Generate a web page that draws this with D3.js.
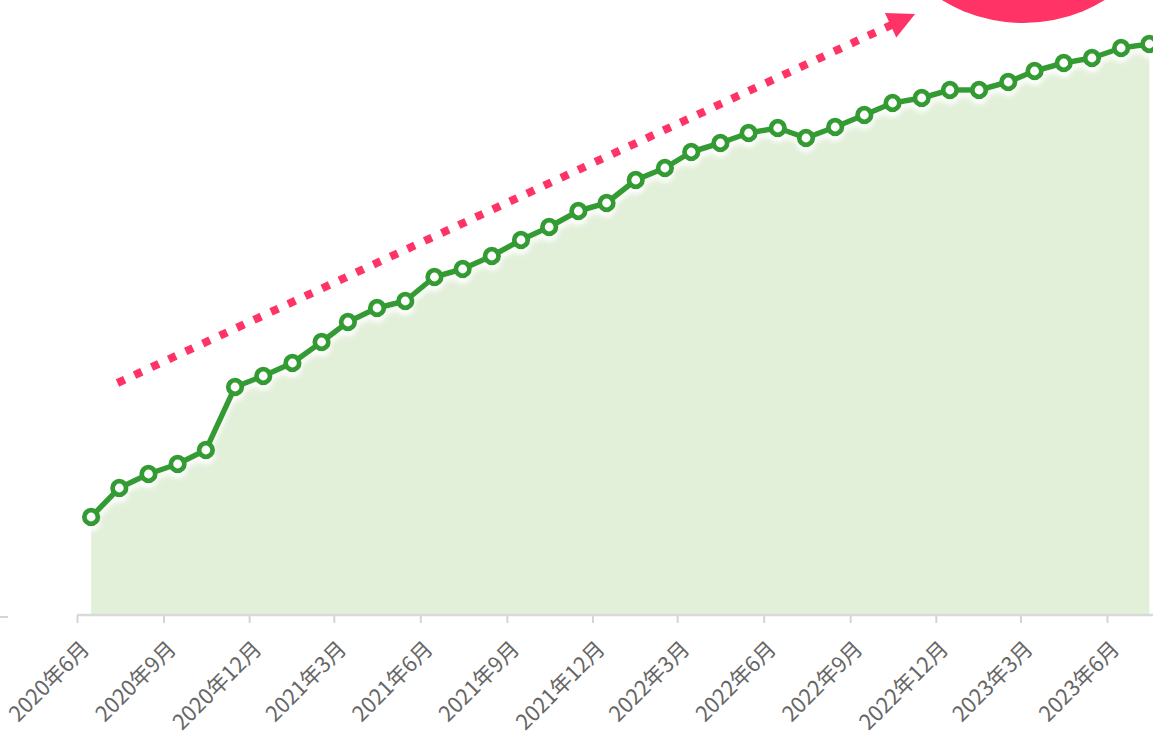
<!DOCTYPE html>
<html>
<head>
<meta charset="utf-8">
<script src="https://cdn.jsdelivr.net/npm/d3@7"></script>
<style>
  html, body { margin: 0; padding: 0; background: #fff; overflow: hidden; }
  svg { display: block; }
  .tick text { font-family: "Noto Sans CJK SC", "Noto Sans", sans-serif; }
</style>
</head>
<body>
<svg width="1153" height="737"></svg>
<script>
// monthly observations, one per month (mid-month), 2020-06 .. 2023-07
let months = [
  '2020-06', '2020-07', '2020-08', '2020-09', '2020-10', '2020-11', '2020-12',
  '2021-01', '2021-02', '2021-03', '2021-04', '2021-05', '2021-06', '2021-07',
  '2021-08', '2021-09', '2021-10', '2021-11', '2021-12', '2022-01', '2022-02',
  '2022-03', '2022-04', '2022-05', '2022-06', '2022-07', '2022-08', '2022-09',
  '2022-10', '2022-11', '2022-12', '2023-01', '2023-02', '2023-03', '2023-04',
  '2023-05', '2023-06', '2023-07'
]
let values = [
  97, 126, 140, 150, 164, 227, 238, 251, 272, 292, 306, 313, 337,
  345, 358, 374, 387, 403, 411, 434, 446, 462, 471, 481, 486, 476,
  487, 499, 511, 516, 524, 524, 532, 543, 551, 556, 566, 570
]
let tickMonths = [
  '2020-06', '2020-09', '2020-12', '2021-03', '2021-06', '2021-09', '2021-12',
  '2022-03', '2022-06', '2022-09', '2022-12', '2023-03', '2023-06'
]
// trend arrow annotation, in data space [date, value]
let arrowFrom = ['2020-07-14', 231]
let arrowTo = ['2022-11-09', 600]
// badge circle centre, in data space
let badgeAt = ['2023-03-04', 747]

let width = 1153
let height = 737
let baseY = 614
let green = '#339c33'
let red = '#ff3366'

let parseMonth = d3.timeParse('%Y-%m')
let parseDay = d3.timeParse('%Y-%m-%d')
let mid = m => d3.timeDay.offset(parseMonth(m), 15)

let data = months.map((m, i) => [mid(m), values[i]])

let x = d3.scaleTime()
  .domain([parseMonth('2020-06'), parseMonth('2023-06')])
  .range([77, 1107])

let y = d3.scaleLinear()
  .domain([0, 600])
  .range([baseY, 14])

let svg = d3.select('svg')

let defs = svg.append('defs')
let glow = defs.append('filter')
  .attr('id', 'glow')
  .attr('x', '-10%').attr('y', '-10%')
  .attr('width', '120%').attr('height', '130%')
glow.append('feDropShadow')
  .attr('dx', 0).attr('dy', 5)
  .attr('stdDeviation', 2.5)
  .attr('flood-color', '#fff')
  .attr('flood-opacity', 1)

// area under the line
let area = d3.area()
  .x(d => x(d[0]))
  .y0(y(0))
  .y1(d => y(d[1]))

svg.append('path')
  .datum(data)
  .attr('d', area)
  .attr('fill', '#e2efd9')

// x axis
let xAxis = d3.axisBottom(x)
  .tickValues(tickMonths.map(parseMonth))
  .tickFormat(d => d3.timeFormat('%Y')(d) + '年' + (d.getMonth() + 1) + '月')
  .tickSizeOuter(0)
  .tickSizeInner(8)
  .tickPadding(0)

let ax = svg.append('g')
  .attr('transform', 'translate(0,' + (baseY + 1) + ')')
  .call(xAxis)

ax.select('.domain').remove()
ax.append('line')
  .attr('x1', x.range()[0])
  .attr('x2', width)
  .attr('stroke', '#d9d9d9')
  .attr('stroke-width', 2.5)
ax.selectAll('.tick line')
  .attr('stroke', '#d4d4d4')
  .attr('stroke-width', 2)
ax.selectAll('.tick text')
  .attr('fill', '#666')
  .attr('font-size', 21.5)
  .attr('text-anchor', 'end')
  .attr('dy', '0.35em')
  .attr('transform', 'translate(8,30) rotate(-45)')
  .attr('y', 0)

// stray tick of an off-screen axis on the left edge
svg.append('line')
  .attr('x1', 0).attr('x2', 8)
  .attr('y1', baseY + 3).attr('y2', baseY + 3)
  .attr('stroke', '#d4d4d4')
  .attr('stroke-width', 2)

// line
let line = d3.line()
  .x(d => x(d[0]))
  .y(d => y(d[1]))

let lineG = svg.append('g').attr('filter', 'url(#glow)')
lineG.append('path')
  .datum(data)
  .attr('d', line)
  .attr('fill', 'none')
  .attr('stroke', green)
  .attr('stroke-width', 5.5)
  .attr('stroke-linejoin', 'round')

lineG.selectAll('circle')
  .data(data)
  .enter()
  .append('circle')
  .attr('cx', d => x(d[0]))
  .attr('cy', d => y(d[1]))
  .attr('r', 6.8)
  .attr('fill', '#fff')
  .attr('stroke', green)
  .attr('stroke-width', 4.8)

// trend arrow
let p0 = [x(parseDay(arrowFrom[0])), y(arrowFrom[1])]
let p1 = [x(parseDay(arrowTo[0])), y(arrowTo[1])]
let dx = p1[0] - p0[0], dy = p1[1] - p0[1]
let len = Math.sqrt(dx * dx + dy * dy)
let ux = dx / len, uy = dy / len
let headLen = 27, headHalf = 13.5
let base = [p1[0] - ux * headLen, p1[1] - uy * headLen]

svg.append('line')
  .attr('x1', p0[0]).attr('y1', p0[1])
  .attr('x2', base[0] + ux * 2).attr('y2', base[1] + uy * 2)
  .attr('stroke', red)
  .attr('stroke-width', 8)
  .attr('stroke-dasharray', '8 10.8')

svg.append('path')
  .attr('d', 'M' + p1[0] + ',' + p1[1] +
    'L' + (base[0] - uy * headHalf) + ',' + (base[1] + ux * headHalf) +
    'L' + (base[0] + uy * headHalf) + ',' + (base[1] - ux * headHalf) + 'Z')
  .attr('fill', red)

// badge circle, mostly off the top edge
svg.append('circle')
  .attr('cx', x(parseDay(badgeAt[0])))
  .attr('cy', y(badgeAt[1]))
  .attr('r', 156)
  .attr('fill', red)
</script>
</body>
</html>
